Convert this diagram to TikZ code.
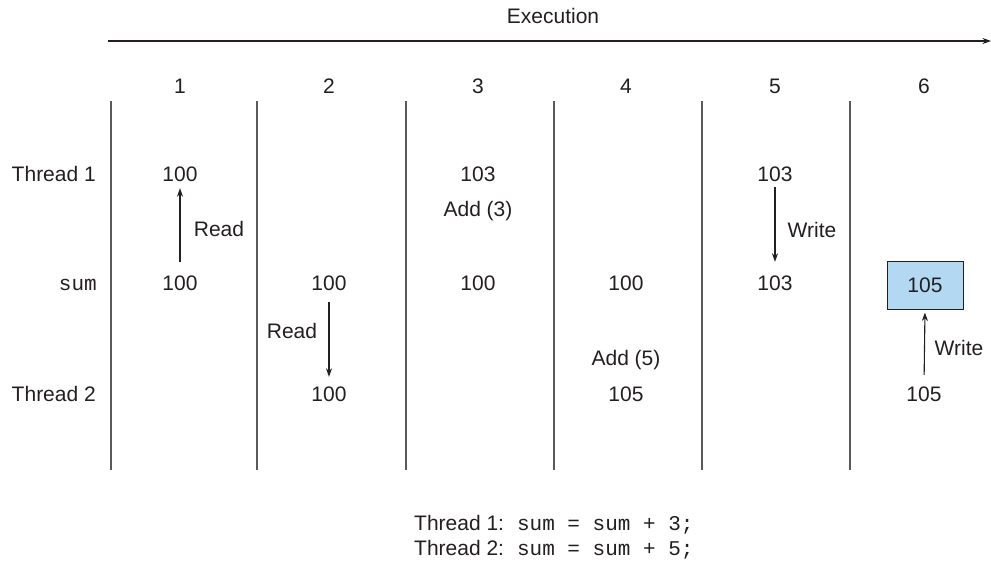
\documentclass[tikz,border=0pt]{standalone}
\usepackage{fontspec}
\setmainfont{Liberation Sans}
\setmonofont{Liberation Mono}
\usetikzlibrary{arrows.meta}
\definecolor{txt}{HTML}{231F20}
\definecolor{ln}{HTML}{5A5A5A}
\definecolor{boxblue}{RGB}{179,217,242}
\begin{document}
\begin{tikzpicture}[x=1pt,y=-1pt,
  lbl/.style={inner sep=0pt, text height=15pt, text depth=0pt, font=\fontsize{21}{25}\selectfont, text=txt},
  mono/.style={lbl, font=\fontsize{21}{25}\selectfont\ttfamily},
  arr/.style={draw=txt, line width=1.1pt, -{Stealth[length=8.5pt,width=6pt]}},
  sepline/.style={draw=ln, line width=1.3pt},
  valbox/.style={lbl, draw=txt, line width=1pt, fill=boxblue, minimum width=76pt, minimum height=48pt}]
\useasboundingbox (0,0) rectangle (991,560);

% Execution axis
\node[lbl] (exec) at (553,15.5) {Execution};
\coordinate (ax0) at (108,41);
\coordinate (ax1) at (991,41);
\draw[arr] (ax0) -- (ax1);

% column numbers
\foreach \i/\x in {1/180,2/329,3/478,4/626,5/775,6/924}
  \node[lbl] (col\i) at (\x,86) {\i};

% separators
\foreach \x in {111,257,406,554,702,850}
  \draw[sepline] (\x,101) -- (\x,470);

% row labels
\node[lbl, anchor=east] (r1) at (96,174) {Thread 1};
\node[mono, anchor=east] (r2) at (97,283) {sum};
\node[lbl, anchor=east] (r3) at (96,394) {Thread 2};

% column 1
\node[lbl] (a1) at (180,174) {100};
\node[lbl] (s1) at (180,283) {100};
\draw[arr, shorten <=13.5pt, shorten >=6.5pt] (s1.north) -- (a1.south);
\node[lbl] (rd1) at (219,229) {Read};

% column 2
\node[lbl] (s2) at (329,283) {100};
\node[lbl] (b2) at (329,394) {100};
\draw[arr, shorten <=11.5pt, shorten >=9.5pt] (s2.south) -- (b2.north);
\node[lbl] (rd2) at (292,331) {Read};

% column 3
\node[lbl] (a3) at (478,174) {103};
\node[lbl] (add3) at (478,209) {Add (3)};
\node[lbl] (s3) at (478,283) {100};

% column 4
\node[lbl] (s4) at (626,283) {100};
\node[lbl] (add5) at (626,358) {Add (5)};
\node[lbl] (b4) at (626,394) {105};

% column 5
\node[lbl] (a5) at (775,174) {103};
\node[lbl] (s5) at (775,283) {103};
\draw[arr, shorten <=5.5pt, shorten >=13.5pt] (a5.south) -- (s5.north);
\node[lbl] (wr5) at (812,230) {Write};

% column 6
\node[valbox] (s6) at (925,285) {105};
\node[lbl] (b6) at (924,394) {105};
\draw[arr, shorten <=11.5pt, shorten >=3pt] (b6.north) -- (s6.south);
\node[lbl] (wr6) at (959,348) {Write};

% code
\node[lbl, anchor=west] (c1) at (414,522.5) {Thread 1:\hspace{13pt}{\ttfamily sum\ =\ sum\ +\ 3;}};
\node[lbl, anchor=west] (c2) at (414,547.5) {Thread 2:\hspace{13pt}{\ttfamily sum\ =\ sum\ +\ 5;}};
\end{tikzpicture}
\end{document}
